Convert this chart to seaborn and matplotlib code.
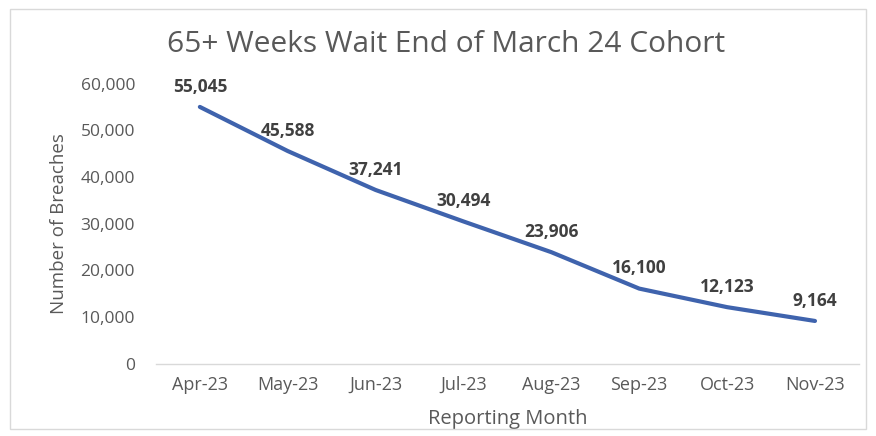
import matplotlib
matplotlib.use("Agg")
import matplotlib.pyplot as plt
import seaborn as sns
import pandas as pd
from matplotlib.patches import Rectangle

months = ["Apr-23", "May-23", "Jun-23", "Jul-23", "Aug-23", "Sep-23", "Oct-23", "Nov-23"]
breaches = [55045, 45588, 37241, 30494, 23906, 16100, 12123, 9164]
yticks = [0, 10000, 20000, 30000, 40000, 50000, 60000]

df = pd.DataFrame({"Reporting Month": months, "Number of Breaches": breaches})

sns.set_theme(style="white")
plt.rcParams["font.family"] = ["Open Sans", "DejaVu Sans"]

fig = plt.figure(figsize=(8.76, 4.36), dpi=100)
ax = fig.add_axes([0.178, 0.1658, 0.8025, 0.642])

x = list(range(len(months)))
df["x"] = x
sns.lineplot(data=df, x="x", y="Number of Breaches", ax=ax, color="#3F63AD", linewidth=3)

for xi, v in zip(x, breaches):
    ax.annotate(f"{v:,}", (xi, v), xytext=(0, 8), textcoords="offset points",
                ha="center", va="bottom", fontsize=12.5, fontweight="bold", color="#404040")

ax.set_xlim(-0.5, len(months) - 0.5)
ax.set_ylim(0, 60000)
ax.set_yticks(yticks)
ax.set_yticklabels([f"{t:,}" for t in yticks], color="#595959", fontsize=12.5)
ax.set_xticks(x)
ax.set_xticklabels(months, color="#595959", fontsize=13)
ax.tick_params(axis="x", length=0, pad=9)
ax.tick_params(axis="y", length=0, pad=15)
ax.set_xticks([i - 0.5 for i in range(len(months) + 1)], minor=True)
ax.tick_params(axis="x", which="minor", length=4, color="#D9D9D9", width=1)

for s in ["top", "right", "left"]:
    ax.spines[s].set_visible(False)
ax.spines["bottom"].set_color("#D9D9D9")
ax.spines["bottom"].set_linewidth(1)

ax.set_xlabel("Reporting Month", fontsize=14.5, color="#595959", labelpad=11)
ax.set_ylabel("Number of Breaches", fontsize=13.5, color="#595959", labelpad=9)

fig.text(0.509, 0.897, "65+ Weeks Wait End of March 24 Cohort", ha="center", va="center",
         fontsize=21.5, color="#595959")

fig.patches.append(Rectangle((0.011, 0.015), 0.978, 0.965, transform=fig.transFigure,
                             fill=False, edgecolor="#D9D9D9", linewidth=1))

fig.savefig("out.png", dpi=100)
